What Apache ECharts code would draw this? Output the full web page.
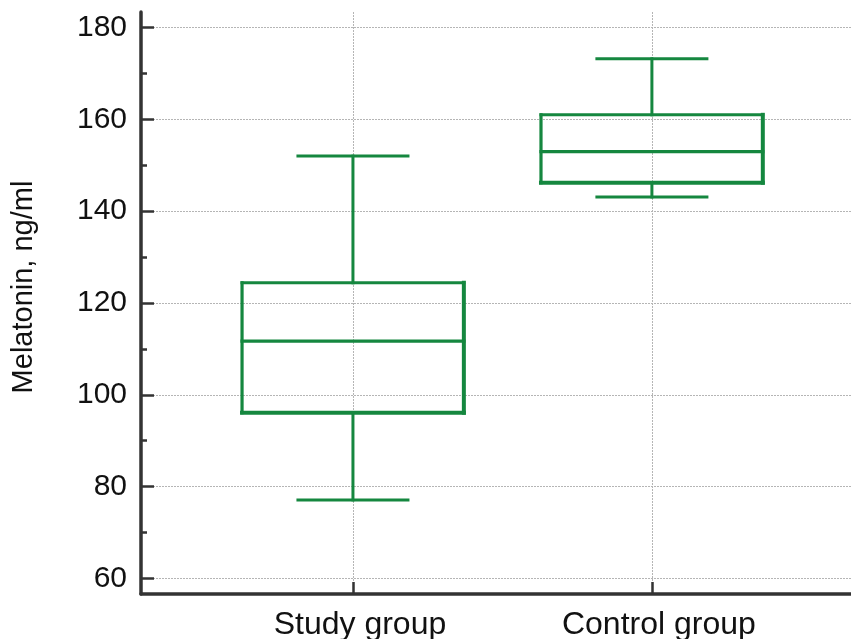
<!DOCTYPE html>
<html>
<head>
<meta charset="utf-8">
<script src="https://cdn.jsdelivr.net/npm/echarts@6/dist/echarts.min.js"></script>
<style>
html,body{margin:0;padding:0;background:#fff;}
#chart{width:851px;height:639px;}
</style>
</head>
<body>
<div id="chart"></div>
<script>
// ---- data ----
const categories = ['Study group', 'Control group'];
const lowWhisker = [77.1, 143.1];
const q1 = [96.1, 146.2];
const median = [111.7, 153.0];
const q3 = [124.4, 161.0];
const highWhisker = [152.0, 173.2];
const yMajorTicks = [60, 80, 100, 120, 140, 160, 180];
const yMinorTicks = [70, 90, 110, 130, 150, 170];
const yTitle = 'Melatonin, ng/ml';

// ---- styling ----
const GREEN = '#15873f';
const AXIS = '#333333';
const FONT = 'Liberation Sans, Arial, sans-serif';
const BOX_HALF = 0.371;
const CAP_HALF = 0.184;

const xPositions = categories.map((c, i) => i + 1);
const seriesData = categories.map((c, i) => [xPositions[i], lowWhisker[i], q1[i], median[i], q3[i], highWhisker[i]]);

const chart = echarts.init(document.getElementById('chart'), null, {renderer: 'canvas'});

function renderBox(params, api) {
  const x = api.value(0);
  const pLo = api.coord([x, api.value(1)]);
  const pQ1 = api.coord([x, api.value(2)]);
  const pMed = api.coord([x, api.value(3)]);
  const pQ3 = api.coord([x, api.value(4)]);
  const pHi = api.coord([x, api.value(5)]);
  const cx = pLo[0];
  const L = api.coord([x - BOX_HALF, 100])[0];
  const R = api.coord([x + BOX_HALF, 100])[0];
  const cL = api.coord([x - CAP_HALF, 100])[0];
  const cR = api.coord([x + CAP_HALF, 100])[0];
  const line = (x1, y1, x2, y2, w) => ({
    type: 'line',
    shape: {x1, y1, x2, y2},
    style: {stroke: GREEN, lineWidth: w, lineCap: 'square'}
  });
  return {
    type: 'group',
    children: [
      line(cx, pHi[1], cx, pQ3[1], 3),
      line(cx, pQ1[1], cx, pLo[1], 3),
      line(cL, pHi[1], cR, pHi[1], 3),
      line(cL, pLo[1], cR, pLo[1], 3),
      line(L, pQ3[1], R, pQ3[1], 3),
      line(L, pQ3[1], L, pQ1[1], 3.2),
      line(R, pQ3[1], R, pQ1[1], 4),
      line(L, pQ1[1], R, pQ1[1], 4),
      line(L, pMed[1], R, pMed[1], 3.2)
    ]
  };
}

const option = {
  animation: false,
  backgroundColor: '#ffffff',
  grid: {left: 141, right: 0, top: 12, bottom: 45, containLabel: false, outerBoundsMode: 'none'},
  xAxis: {
    type: 'value',
    min: 0.291,
    max: 2.666,
    axisLine: {show: true, onZero: false, lineStyle: {color: AXIS, width: 3.5}},
    axisTick: {show: true, inside: true, length: 12, customValues: xPositions, lineStyle: {color: AXIS, width: 2.5}},
    axisLabel: {
      show: true, customValues: xPositions, margin: 15,
      padding: [0, 0, 0, 14],
      formatter: v => categories[Math.round(v) - 1] || '',
      color: '#111', fontSize: 32, fontFamily: FONT
    },
    splitLine: {show: true, lineStyle: {color: '#b5b5b5', type: [2, 1], width: 1}}
  },
  yAxis: [
    {
      type: 'value',
      position: 'left',
      min: 56.6,
      max: 183.4,
      axisLine: {show: true, onZero: false, lineStyle: {color: AXIS, width: 3.5}},
      axisTick: {show: true, inside: true, length: 13, customValues: yMajorTicks, lineStyle: {color: AXIS, width: 2.5}},
      axisLabel: {show: true, customValues: yMajorTicks, margin: 14, color: '#111', fontSize: 30, fontFamily: FONT},
      splitLine: {show: true, lineStyle: {color: '#b5b5b5', type: [2, 1], width: 1}}
    },
    {
      type: 'value',
      position: 'left',
      min: 56.6,
      max: 183.4,
      axisLine: {show: false},
      axisTick: {show: true, inside: true, length: 6, customValues: yMinorTicks, lineStyle: {color: AXIS, width: 2.5}},
      axisLabel: {show: false},
      splitLine: {show: false}
    }
  ],
  graphic: [
    {
      type: 'text',
      x: 24,
      y: 287,
      rotation: Math.PI / 2,
      style: {text: yTitle, fill: '#111', font: '29px ' + FONT, align: 'center', verticalAlign: 'middle'}
    }
  ],
  series: [
    {
      type: 'custom',
      renderItem: renderBox,
      encode: {x: 0, y: [1, 2, 3, 4, 5]},
      data: seriesData,
      z: 5
    }
  ]
};
chart.setOption(option);
</script>
</body>
</html>
